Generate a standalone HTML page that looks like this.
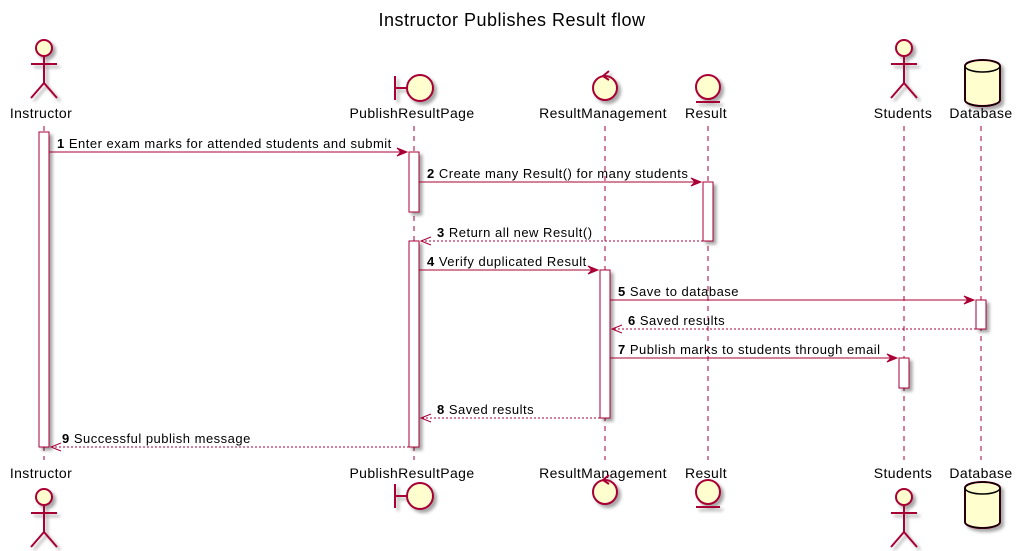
<!DOCTYPE html>
<html><head><meta charset="utf-8"><style>
html,body{margin:0;padding:0;background:#fff;}
svg{display:block;font-family:"Liberation Sans",sans-serif;}
</style></head><body>
<svg width="1021" height="551" viewBox="0 0 1021 551" xmlns="http://www.w3.org/2000/svg">
<defs>
<filter id="sh" x="-30%" y="-30%" width="160%" height="160%"><feGaussianBlur in="SourceAlpha" stdDeviation="1.5"/><feOffset dx="3" dy="3"/><feComponentTransfer><feFuncA type="linear" slope="0.35"/></feComponentTransfer><feMerge><feMergeNode/><feMergeNode in="SourceGraphic"/></feMerge></filter>
</defs>
<text x="512" y="26" font-size="18" letter-spacing="0.5" text-anchor="middle" fill="#000">Instructor Publishes Result flow</text>

<!-- lifelines -->
<g stroke="#A80036" stroke-width="1" stroke-dasharray="5,5">
<line x1="44" y1="126" x2="44" y2="460"/>
<line x1="414" y1="126" x2="414" y2="460"/>
<line x1="605" y1="126" x2="605" y2="460"/>
<line x1="708" y1="126" x2="708" y2="460"/>
<line x1="904" y1="126" x2="904" y2="460"/>
<line x1="981" y1="126" x2="981" y2="460"/>
</g>

<!-- activations -->
<g fill="#fff" stroke="#A80036" stroke-width="1" filter="url(#sh)">
<rect x="39" y="132" width="10" height="315"/>
<rect x="409" y="152" width="10" height="60"/>
<rect x="409" y="241" width="10" height="206"/>
<rect x="703" y="182" width="10" height="59"/>
<rect x="600" y="270" width="10" height="148"/>
<rect x="976" y="300" width="10" height="29"/>
<rect x="899" y="358" width="10" height="30"/>
</g>

<!-- messages -->
<g stroke="#A80036" stroke-width="1" fill="#A80036">
<line x1="49" y1="152" x2="407" y2="152"/><polygon points="397,148 407,152 397,156 401,152"/>
<line x1="419" y1="182" x2="701" y2="182"/><polygon points="691,178 701,182 691,186 695,182"/>
<line x1="703" y1="241" x2="421" y2="241" stroke-dasharray="2,2"/><polyline points="431,237 421,241 431,245" fill="none"/>
<line x1="419" y1="270" x2="598" y2="270"/><polygon points="588,266 598,270 588,274 592,270"/>
<line x1="610" y1="300" x2="974" y2="300"/><polygon points="964,296 974,300 964,304 968,300"/>
<line x1="976" y1="329" x2="612" y2="329" stroke-dasharray="2,2"/><polyline points="622,325 612,329 622,333" fill="none"/>
<line x1="610" y1="358" x2="897" y2="358"/><polygon points="887,354 897,358 887,362 891,358"/>
<line x1="600" y1="418" x2="421" y2="418" stroke-dasharray="2,2"/><polyline points="431,414 421,418 431,422" fill="none"/>
<line x1="409" y1="447" x2="51" y2="447" stroke-dasharray="2,2"/><polyline points="61,443 51,447 61,451" fill="none"/>
</g>
<g font-size="13" letter-spacing="0.5" fill="#000">
<text x="57" y="148"><tspan font-weight="bold">1</tspan> Enter exam marks for attended students and submit</text>
<text x="427" y="178"><tspan font-weight="bold">2</tspan> Create many Result() for many students</text>
<text x="437" y="237"><tspan font-weight="bold">3</tspan> Return all new Result()</text>
<text x="427" y="266"><tspan font-weight="bold">4</tspan> Verify duplicated Result</text>
<text x="618" y="296"><tspan font-weight="bold">5</tspan> Save to database</text>
<text x="628" y="325"><tspan font-weight="bold">6</tspan> Saved results</text>
<text x="618" y="354"><tspan font-weight="bold">7</tspan> Publish marks to students through email</text>
<text x="437" y="414"><tspan font-weight="bold">8</tspan> Saved results</text>
<text x="62" y="443"><tspan font-weight="bold">9</tspan> Successful publish message</text>
</g>

<!-- names -->
<g font-size="14" letter-spacing="0.4" fill="#000" text-anchor="middle">
<text x="41" y="118">Instructor</text><text x="41" y="478">Instructor</text>
<text x="412" y="118">PublishResultPage</text><text x="412" y="478">PublishResultPage</text>
<text x="603" y="118">ResultManagement</text><text x="603" y="478">ResultManagement</text>
<text x="706" y="118">Result</text><text x="706" y="478">Result</text>
<text x="903" y="118">Students</text><text x="903" y="478">Students</text>
<text x="981" y="118">Database</text><text x="981" y="478">Database</text>
</g>

<!-- symbols -->
<g stroke="#A80036" stroke-width="2" fill="#FEFECE" filter="url(#sh)">
<g><circle cx="44" cy="48" r="8"/><line x1="44" y1="56" x2="44" y2="83"/><line x1="31" y1="64" x2="57" y2="64"/><polyline points="31,98 44,83 57,98" fill="none"/></g>
<g><circle cx="904" cy="48" r="8"/><line x1="904" y1="56" x2="904" y2="83"/><line x1="891" y1="64" x2="917" y2="64"/><polyline points="891,98 904,83 917,98" fill="none"/></g>
<g><circle cx="44" cy="497" r="8"/><line x1="44" y1="505" x2="44" y2="532"/><line x1="31" y1="513" x2="57" y2="513"/><polyline points="31,547 44,532 57,547" fill="none"/></g>
<g><circle cx="904" cy="497" r="8"/><line x1="904" y1="505" x2="904" y2="532"/><line x1="891" y1="513" x2="917" y2="513"/><polyline points="891,547 904,532 917,547" fill="none"/></g>
<g><line x1="395" y1="76" x2="395" y2="100"/><line x1="395" y1="88" x2="407" y2="88"/><circle cx="420" cy="88" r="13"/></g>
<g><line x1="395" y1="484" x2="395" y2="508"/><line x1="395" y1="496" x2="407" y2="496"/><circle cx="420" cy="496" r="13"/></g>
<g><circle cx="605" cy="88" r="12"/><polyline points="609,71 603,76 609,80" fill="none"/></g>
<g><circle cx="605" cy="492" r="12"/><polyline points="609,475 603,480 609,484" fill="none"/></g>
<g><circle cx="708" cy="87" r="12"/><line x1="696" y1="102" x2="720" y2="102"/></g>
<g><circle cx="708" cy="492" r="12"/><line x1="696" y1="507" x2="720" y2="507"/></g>
<g><path d="M965,66 a17.5,6 0 0 1 35,0 v34 a17.5,6 0 0 1 -35,0 z"/></g>
<g><path d="M965,488 a17.5,6 0 0 1 35,0 v34 a17.5,6 0 0 1 -35,0 z"/></g>
</g>
<g stroke="#000" stroke-width="1.5" fill="none">
<path d="M965,66 a17.5,6 0 0 1 35,0 v34 a17.5,6 0 0 1 -35,0 z"/><path d="M965,66 a17.5,6 0 0 0 35,0"/>
<path d="M965,488 a17.5,6 0 0 1 35,0 v34 a17.5,6 0 0 1 -35,0 z"/><path d="M965,488 a17.5,6 0 0 0 35,0"/>
</g>
</svg>
</body></html>
